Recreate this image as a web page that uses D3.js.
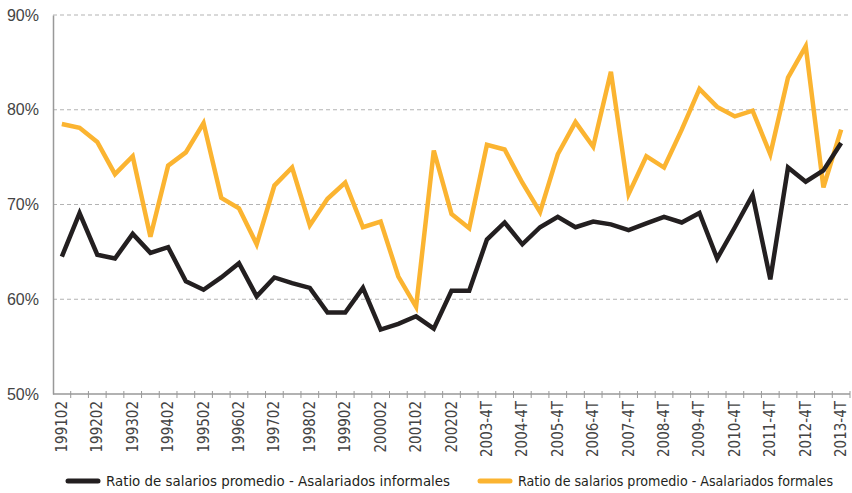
<!DOCTYPE html>
<html>
<head>
<meta charset="utf-8">
<script src="https://cdn.jsdelivr.net/npm/d3@7"></script>
<style>
  body { margin: 0; background: #fff; }
  svg { display: block; font-family: "Liberation Sans Narrow", "DejaVu Sans Condensed", sans-serif; }
</style>
</head>
<body>
<div id="chart"></div>
<script>
const periods = [
  "199102", "199201", "199202", "199301", "199302", "199401", "199402", "199501", "199502",
  "199601", "199602", "199701", "199702", "199801", "199802", "199901", "199902",
  "200001", "200002", "200101", "200102", "200201", "200202", "200301",
  "2003-4T", "2004-2T", "2004-4T", "2005-2T", "2005-4T", "2006-2T", "2006-4T",
  "2007-2T", "2007-4T", "2008-2T", "2008-4T", "2009-2T", "2009-4T", "2010-2T", "2010-4T",
  "2011-2T", "2011-4T", "2012-2T", "2012-4T", "2013-2T", "2013-4T"
];

const informales = [
  64.5, 69.1, 64.7, 64.3, 66.9, 64.9, 65.5, 61.9, 61.0, 62.3, 63.8, 60.3,
  62.3, 61.7, 61.2, 58.6, 58.6, 61.2, 56.8, 57.4, 58.2, 56.9, 60.9, 60.9,
  66.3, 68.1, 65.8, 67.6, 68.7, 67.6, 68.2, 67.9, 67.3, 68.0, 68.7, 68.1,
  69.1, 64.3, 67.6, 71.0, 62.1, 73.9, 72.4, 73.6, 76.5
];

const formales = [
  78.5, 78.1, 76.6, 73.2, 75.1, 66.6, 74.1, 75.5, 78.6, 70.7, 69.6, 65.8,
  72.0, 73.9, 67.8, 70.6, 72.3, 67.6, 68.2, 62.4, 59.2, 75.7, 69.0, 67.5,
  76.3, 75.8, 72.3, 69.2, 75.3, 78.7, 76.1, 84.0, 71.1, 75.1, 73.9, 77.9,
  82.2, 80.3, 79.3, 79.9, 75.3, 83.4, 86.7, 71.8, 77.9
];

const yTicks = [50, 60, 70, 80, 90];

const series = [
  { name: "Ratio de salarios promedio - Asalariados informales", values: informales, color: "#231f20" },
  { name: "Ratio de salarios promedio - Asalariados formales", values: formales, color: "#fbb431" }
];

const width = 852,
  height = 493;

const svg = d3.select("#chart")
  .append("svg")
  .attr("width", width)
  .attr("height", height);

const x = d3.scalePoint()
  .domain(periods)
  .range([53, 850])
  .padding(0.5);

const y = d3.scaleLinear()
  .domain([50, 90])
  .range([394, 15]);

// dashed grid lines
svg.append("g")
  .selectAll("line")
  .data(yTicks.filter(d => d > 50))
  .join("line")
  .attr("x1", 53)
  .attr("x2", 850)
  .attr("y1", d => y(d))
  .attr("y2", d => y(d))
  .attr("stroke", "#b3b3b3")
  .attr("stroke-width", 1)
  .attr("stroke-dasharray", "4,3");

// y axis
const yAxis = svg.append("g")
  .attr("transform", "translate(53,0)")
  .call(d3.axisLeft(y).tickValues(yTicks).tickSize(0).tickPadding(14).tickFormat(d => d + "%"));
yAxis.select(".domain").attr("stroke", "#999").attr("stroke-width", 1.5);
yAxis.selectAll("text")
  .attr("fill", "#444")
  .style("font-size", "16px");

// x axis (ticks between categories)
const step = x.step();
svg.append("line")
  .attr("x1", 53)
  .attr("x2", 850)
  .attr("y1", y(50))
  .attr("y2", y(50))
  .attr("stroke", "#999")
  .attr("stroke-width", 1.5);

svg.append("g")
  .selectAll("line")
  .data(periods.slice(1))
  .join("line")
  .attr("x1", d => x(d) - step / 2)
  .attr("x2", d => x(d) - step / 2)
  .attr("y1", y(50) - 3)
  .attr("y2", y(50) + 4)
  .attr("stroke", "#999");

svg.append("line")
  .attr("x1", 850).attr("x2", 850)
  .attr("y1", y(50) - 3).attr("y2", y(50) + 4)
  .attr("stroke", "#999");

svg.append("g")
  .selectAll("text")
  .data(periods.filter((d, i) => i % 2 === 0))
  .join("text")
  .attr("transform", d => `translate(${x(d) + 5},${y(50) + 7}) rotate(-90)`)
  .attr("text-anchor", "end")
  .attr("fill", "#444")
  .style("font-size", "15px")
  .text(d => d);

// lines
const line = d3.line()
  .x((d, i) => x(periods[i]))
  .y(d => y(d));

svg.append("g")
  .selectAll("path")
  .data(series.slice().reverse())
  .join("path")
  .attr("fill", "none")
  .attr("stroke", d => d.color)
  .attr("stroke-width", 4.5)
  .attr("stroke-linejoin", "miter")
  .attr("d", d => line(d.values));

// legend
const legendX = [68, 480];
const legendW = [344, 315];
const legend = svg.append("g")
  .selectAll("g")
  .data(series)
  .join("g")
  .attr("transform", (d, i) => `translate(${legendX[i]},481)`);

legend.append("line")
  .attr("x1", 0)
  .attr("x2", 30)
  .attr("stroke", d => d.color)
  .attr("stroke-width", 5)
  .attr("stroke-linecap", "round");

legend.append("text")
  .attr("x", 38)
  .attr("dy", "0.35em")
  .attr("fill", "#231f20")
  .attr("textLength", (d, i) => legendW[i])
  .attr("lengthAdjust", "spacingAndGlyphs")
  .style("font-size", "14.5px")
  .text(d => d.name);
</script>
</body>
</html>
